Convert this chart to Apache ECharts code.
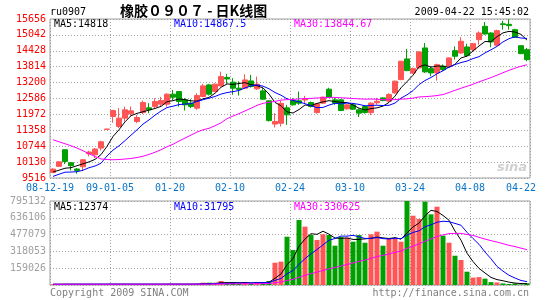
<!DOCTYPE html>
<html><head><meta charset="utf-8">
<script src="https://cdn.jsdelivr.net/npm/echarts@6/dist/echarts.min.js"></script>
<style>html,body{margin:0;padding:0;background:#fff}#c{width:545px;height:300px}</style>
</head><body><div id="c"></div>
<script>
const dates = ['2008-12-22','2008-12-23','2008-12-24','2008-12-25','2008-12-26','2008-12-29','2008-12-30','2008-12-31',
'2009-01-05','2009-01-06','2009-01-07','2009-01-08','2009-01-09','2009-01-12','2009-01-13','2009-01-14','2009-01-15','2009-01-16',
'2009-01-19','2009-01-20','2009-01-21','2009-01-22','2009-01-23',
'2009-02-02','2009-02-03','2009-02-04','2009-02-05','2009-02-06','2009-02-09','2009-02-10','2009-02-11','2009-02-12','2009-02-13',
'2009-02-16','2009-02-17','2009-02-18','2009-02-19','2009-02-20','2009-02-23','2009-02-24','2009-02-25','2009-02-26','2009-02-27',
'2009-03-02','2009-03-03','2009-03-04','2009-03-05','2009-03-06','2009-03-09','2009-03-10','2009-03-11','2009-03-12','2009-03-13',
'2009-03-16','2009-03-17','2009-03-18','2009-03-19','2009-03-20','2009-03-23','2009-03-24','2009-03-25','2009-03-26','2009-03-27',
'2009-03-30','2009-03-31','2009-04-01','2009-04-02','2009-04-03','2009-04-07','2009-04-08','2009-04-09','2009-04-10',
'2009-04-13','2009-04-14','2009-04-15','2009-04-16','2009-04-17','2009-04-20','2009-04-21','2009-04-22'];

const opens = [9735,9965,10607,10106,9863,9950,10452,10414,10672,11395,
11890,11505,11828,11994,11697,12044,12225,12275,12368,12368,
12753,12854,12533,12406,12214,12661,13112,12854,13073,13400,
13216,12985,12985,13266,12960,12880,12495,11597,11628,12225,
12507,12495,12530,12430,12044,12406,12946,12533,12533,12187,
12341,12148,12275,12044,12418,12610,12484,12803,13316,14114,
13574,13767,14538,13740,13574,13833,13832,14434,14345,14576,
14472,14858,15374,15116,14642,15470,15450,15243,14626,14472];
const closes = [9860,10140,10156,9990,9809,10220,10518,10634,10915,11405,
12121,11828,12148,12109,11852,12430,12148,12468,12507,12753,
12638,12468,12341,12275,12699,13073,12753,13139,13432,13340,
12985,12930,13304,13046,13139,12560,11732,11697,12400,11955,
12340,12406,12580,12275,12380,12638,12638,12406,12121,12341,
12175,12021,12044,12406,12480,12507,12738,13254,14025,13663,
13740,14384,13613,13574,13894,13700,14152,14218,14796,14241,
14703,15116,15077,14769,15205,15440,15400,14950,14318,14087];
const highs = [9890,10160,10620,10110,9900,10250,10568,10672,10953,11410,
12150,12214,12275,12275,11955,12507,12406,12599,12650,12792,
12919,12870,12599,12560,12792,13150,13150,13170,13624,13530,
13370,13250,13524,13500,13432,12985,12510,12021,12495,12340,
12600,12854,12688,12470,12400,12660,13000,12600,12560,12370,
12400,12200,12320,12440,12610,12630,12790,13278,14040,14499,
13780,14400,14730,13830,13933,13900,14170,14600,14960,14700,
14730,15180,15540,15140,15240,15590,15650,15280,14640,14538];
const lows = [9700,9940,10055,9809,9680,9780,10348,10287,10580,11390,
11650,11443,11697,11890,11636,11983,12021,12214,12275,12275,
12530,12275,12122,12214,12150,12638,12700,12830,13048,13150,
12730,12700,12955,13010,12920,12534,11700,11466,11505,11570,
12314,12340,12406,12240,12000,12380,12610,12340,12100,12160,
12150,11870,12000,11944,12352,12480,12450,12765,13290,13640,
13530,13740,13575,13445,13277,13640,13810,14087,14306,14200,
14420,14665,15050,14565,14620,15245,15245,14930,14300,14025];
const volumes = [8000,7000,9000,8000,6000,7000,8000,7000,9000,8000,
9000,8000,7000,8000,7000,8000,7000,9000,8000,8000,
9000,8000,7000,9000,10000,22000,22000,15000,38000,15000,
25000,15000,25000,15000,25000,28000,38000,211000,221000,457000,
331000,615000,552000,473000,426000,480000,473000,372000,454000,448000,
410000,473000,400000,480000,505000,372000,442000,442000,410000,795132,
656000,625000,789000,669000,741000,467000,400000,277000,237000,126000,
70000,75000,60000,27000,24000,15000,10000,15000,5000,17000];

// moving-average values before enough visible days exist
const ma5Lead = [9747,9817,9894,9913];
const ma10Lead = [9578,9662,9740,9747,9759,9817,9913,9978,10086];
const ma30Lead = [10992,10915,10838,10761,10672,10568,10453,10348,10252,10229,10221,10229,10248,10271,10306,
10356,10426,10510,10607,10722,10819,10942,11058,11173,11289,11378,11435,11532,11647];
const volMa5Lead = [7000,7500,8000,8000];
const volMa10Lead = [6500,6800,7000,7200,7300,7400,7500,7600,7700];
const volMa30Lead = [7000,7000,7000,7000,7000,7100,7100,7100,7200,7200,7200,7300,7300,7300,7400,
7400,7400,7500,7500,7500,7600,7600,7700,7700,7800,8200,8700,9000,9800];

const priceMin = 9516, priceMax = 15656, priceStep = 614;
const volMax = 795132;
const xTickLabels = ['08-12-19','09-01-05','01-20','02-10','02-24','03-10','03-24','04-08','04-22'];
const legendPrice = ['MA5:14818','MA10:14867.5','MA30:13844.67'];
const legendVol = ['MA5:12374','MA10:31795','MA30:330625'];

function movingAvg(vals, n, lead) {
  return vals.map((v, i) => {
    if (i < n - 1) return lead[i];
    let s = 0; for (let k = i - n + 1; k <= i; k++) s += vals[k];
    return +(s / n).toFixed(2);
  });
}

const UP = '#ff5555', DOWN = '#00a000';
const MONO = '"DejaVu Sans Mono", monospace';
const grid = '#a0a0a0';
const dotted = {color: '#a0a0a0', width: 1, type: [1, 2]};

const chart = echarts.init(document.getElementById('c'), null, {renderer: 'canvas'});
const kData = opens.map((o, i) => [o, closes[i], lows[i], highs[i]]);

function txt(text, x, y, fill, align, font) {
  return {type: 'text', silent: true, style: {text, x, y, fill, font: font || ('10px ' + MONO),
    textAlign: align || 'left', textVerticalAlign: 'middle', align: align || 'left', verticalAlign: 'middle'}};
}

const option = {
  animation: false,
  backgroundColor: '#fff',
  grid: [
    {left: 50, top: 19, width: 480, height: 159, show: true, borderColor: grid, borderWidth: 1, backgroundColor: 'transparent'},
    {left: 50, top: 201, width: 480, height: 84, show: true, borderColor: grid, borderWidth: 1, backgroundColor: 'transparent'}
  ],
  xAxis: [
    {type: 'category', gridIndex: 0, data: dates, position: 'top', boundaryGap: true,
      axisLine: {show: false}, axisTick: {show: false}, axisLabel: {show: false}, splitLine: {show: false}},
    {type: 'value', gridIndex: 0, min: 0, max: 8, interval: 1, position: 'bottom',
      axisLine: {show: false}, axisTick: {show: false}, splitLine: {show: true, lineStyle: dotted},
      axisLabel: {show: true, margin: 5, color: '#0a74c8', fontSize: 10, fontFamily: MONO,
        formatter: v => v === 8 ? '{last|' + xTickLabels[v] + '}' : xTickLabels[v],
        rich: {last: {padding: [0, 18, 0, 0], color: '#0a74c8', fontSize: 10, fontFamily: MONO}}}},
    {type: 'category', gridIndex: 1, data: dates, position: 'top', boundaryGap: true,
      axisLine: {show: false}, axisTick: {show: false}, axisLabel: {show: false}, splitLine: {show: false}},
    {type: 'value', gridIndex: 1, min: 0, max: 8, interval: 1, position: 'bottom',
      axisLine: {show: false}, axisTick: {show: false}, axisLabel: {show: false},
      splitLine: {show: true, lineStyle: dotted}}
  ],
  yAxis: [
    {type: 'value', gridIndex: 0, min: priceMin, max: priceMax, interval: priceStep, scale: true,
      axisLine: {show: false}, axisTick: {show: false}, splitLine: {show: true, lineStyle: dotted},
      axisLabel: {color: '#ff0000', fontSize: 10, fontFamily: MONO, margin: 4, formatter: v => String(Math.round(v))}},
    {type: 'value', gridIndex: 1, min: 0, max: volMax, interval: volMax / 5,
      axisLine: {show: false}, axisTick: {show: false}, splitLine: {show: true, lineStyle: dotted},
      axisLabel: {color: '#a0a0a0', fontSize: 10, fontFamily: MONO, margin: 4, showMinLabel: false,
        formatter: v => String(Math.round(v))}}
  ],
  series: [
    {type: 'candlestick', xAxisIndex: 0, yAxisIndex: 0, data: kData, barWidth: 5,
      itemStyle: {color: UP, color0: DOWN, borderColor: UP, borderColor0: DOWN, borderWidth: 1}},
    {type: 'line', xAxisIndex: 0, yAxisIndex: 0, data: movingAvg(closes, 5, ma5Lead), symbol: 'none',
      lineStyle: {color: '#000', width: 1}},
    {type: 'line', xAxisIndex: 0, yAxisIndex: 0, data: movingAvg(closes, 10, ma10Lead), symbol: 'none',
      lineStyle: {color: '#0000ff', width: 1}},
    {type: 'line', xAxisIndex: 0, yAxisIndex: 0, data: movingAvg(closes, 30, ma30Lead), symbol: 'none',
      lineStyle: {color: '#ff00ff', width: 1}},
    {type: 'bar', xAxisIndex: 2, yAxisIndex: 1, data: volumes, barWidth: 5,
      itemStyle: {color: p => closes[p.dataIndex] >= opens[p.dataIndex] ? UP : DOWN}},
    {type: 'line', xAxisIndex: 2, yAxisIndex: 1, data: movingAvg(volumes, 5, volMa5Lead), symbol: 'none',
      lineStyle: {color: '#000', width: 1}},
    {type: 'line', xAxisIndex: 2, yAxisIndex: 1, data: movingAvg(volumes, 10, volMa10Lead), symbol: 'none',
      lineStyle: {color: '#0000ff', width: 1}},
    {type: 'line', xAxisIndex: 2, yAxisIndex: 1, data: movingAvg(volumes, 30, volMa30Lead), symbol: 'none',
      lineStyle: {color: '#ff00ff', width: 1}}
  ],
  graphic: [
    txt('ru0907', 50, 12, '#000'),
    txt('橡胶０９０７ - 日K线图', 120, 11, '#000', 'left', 'bold 14px "Noto Sans CJK SC"'),
    txt('2009-04-22 15:45:02', 529, 12, '#000', 'right'),
    txt(legendPrice[0], 54, 24, '#000'),
    txt(legendPrice[1], 174, 24, '#0000ff'),
    txt(legendPrice[2], 294, 24, '#ff00ff'),
    txt(legendVol[0], 54, 207, '#000'),
    txt(legendVol[1], 174, 207, '#0000ff'),
    txt(legendVol[2], 294, 207, '#ff00ff'),
    txt('Copyright 2009 SINA.COM', 50, 293, '#808080'),
    txt('http://finance.sina.com.cn', 529, 293, '#808080', 'right'),
    txt('sina', 512, 168, '#d0d0d0', 'center', 'italic bold 13px "DejaVu Sans"')
  ]
};
chart.setOption(option);
</script></body></html>
